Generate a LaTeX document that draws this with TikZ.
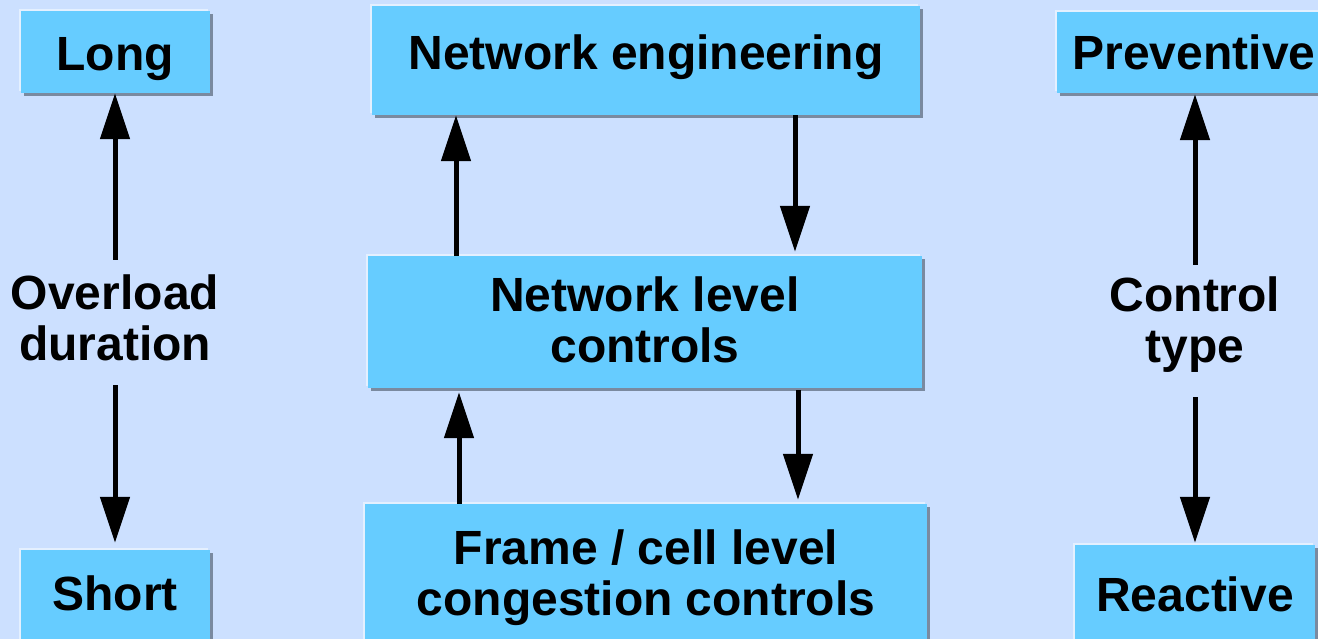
\documentclass[tikz,border=0pt]{standalone}
\usepackage{fontspec}
\setmainfont{Liberation Sans}
\usetikzlibrary{arrows.meta,fit,shadows}
\definecolor{bg}{HTML}{CCE0FF}
\definecolor{boxfill}{HTML}{66CCFF}
\definecolor{shadowc}{HTML}{7A8AA0}
\definecolor{lightedge}{HTML}{E4F0FF}
\tikzset{
  box/.style={fill=boxfill, inner sep=0pt, draw=none,
    general shadow={shadow xshift=3pt, shadow yshift=-3pt, fill=shadowc},
    general shadow={shadow xshift=-2pt, shadow yshift=2pt, fill=lightedge}},
  lbl/.style={inner sep=0pt, align=center, anchor=base, font=\fontsize{48}{51}\selectfont\bfseries},
  arr/.style={line width=5pt, -{Triangle[length=46pt,width=29pt]}}
}
\begin{document}
\begin{tikzpicture}[x=1pt,y=-1pt]
\fill[bg] (0,0) rectangle (1318,639);
\useasboundingbox (0,0) rectangle (1318,639);
% boxes
\node[box, fit={(21,11) (210,93)}] (long) {};
\node[box, fit={(21,550) (210,660)}] (short) {};
\node[box, fit={(372,6) (920,115)}] (ne) {};
\node[box, fit={(368,256) (922,388)}] (nlc) {};
\node[box, fit={(365,504) (927,660)}] (frame) {};
\node[box, fit={(1057,12) (1335,93)}] (prev) {};
\node[box, fit={(1075,545) (1315,660)}] (react) {};
% labels (anchor = baseline of the last line)
\node[lbl] (tlong) at (115,71) {Long};
\node[lbl] (tshort) at (115,610) {Short};
\node[lbl] (tne) at (646,70) {Network engineering};
\node[lbl] (tnlc) at (645,362) {Network level\\controls};
\node[lbl] (tframe) at (646,615) {Frame / cell level\\congestion controls};
\node[lbl] (tprev) at (1194,70) {Preventive};
\node[lbl] (treact) at (1195,611) {Reactive};
\node[lbl] (ovl) at (115,360) {Overload\\duration};
\node[lbl] (ctl) at (1195,362) {Control\\type};
% connector anchors
\coordinate (l1) at (115,260);
\coordinate (l2) at (115,385);
\coordinate (r1) at (1195,265);
\coordinate (r2) at (1195,397);
\coordinate (m1) at (456,0);
\coordinate (m2) at (795,0);
\coordinate (m3) at (459,0);
\coordinate (m4) at (798,0);
% arrows
\draw[arr] (l1) -- (long.south -| l1);
\draw[arr, shorten >=7pt] (l2) -- (short.north -| l2);
\draw[arr, shorten >=1pt] (r1) -- (prev.south -| r1);
\draw[arr, shorten >=2pt] (r2) -- (react.north -| r2);
\draw[arr] (nlc.north -| m1) -- (ne.south -| m1);
\draw[arr, shorten >=4pt] (ne.south -| m2) -- (nlc.north -| m2);
\draw[arr, shorten >=4pt] (frame.north -| m3) -- (nlc.south -| m3);
\draw[arr, shorten <=2pt, shorten >=4pt] (nlc.south -| m4) -- (frame.north -| m4);
\end{tikzpicture}
\end{document}
